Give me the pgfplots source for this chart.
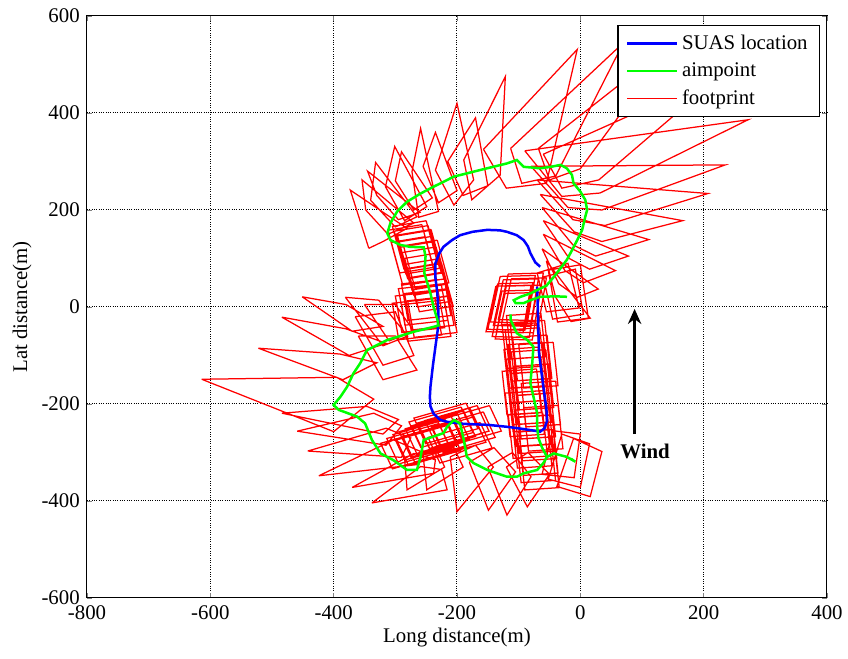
\documentclass[border=0pt]{standalone}
\usepackage{fontspec}
\setmainfont{Liberation Serif}
\usepackage{pgfplots}
\pgfplotsset{compat=1.18}
\usetikzlibrary{arrows.meta}
\begin{document}
\fontsize{12.5}{15}\selectfont
\begin{tikzpicture}
\useasboundingbox (-52.2pt,-36.6pt) rectangle (456.6pt,358.8pt);
\begin{axis}[
  scale only axis, width=444pt, height=349.2pt,
  xmin=-800, xmax=400, ymin=-600, ymax=600,
  xtick={-800,-600,...,400}, ytick={-600,-400,...,600},
  xtick pos=both, ytick pos=both,
  tick align=inside, major tick length=3pt,
  axis line style={line width=0.6pt},
  grid=major, grid style={black, densely dotted, line width=0.6pt},
  unbounded coords=jump,
  /pgf/number format/assume math mode=true,
  tick label style={font=\fontsize{12.5}{15}\selectfont},
  label style={font=\fontsize{12.5}{15}\selectfont},
  xlabel={Long distance(m)}, ylabel={Lat distance(m)},
  xlabel style={at={(axis description cs:0.5,-0.0687)}, anchor=center},
  ylabel style={at={(axis description cs:-0.0878,0.5)}, anchor=center},
  legend style={at={(axis description cs:0.9905,0.9845)}, anchor=north east,
    draw=black, line width=0.8pt, fill=white, font=\fontsize{12.5}{15}\selectfont,
    inner xsep=5pt, inner ysep=3.5pt, row sep=2pt},
  legend cell align=left,
  legend image code/.code={\draw[#1] (0pt,0pt) -- (30pt,0pt);},
]
% footprints
\addplot[red, line width=0.75pt, forget plot] coordinates {
(-90,322) (272,386) (32,235) (-30,228) (-90,322) (nan,nan)
(-80,290) (235,293) (35,200) (-20,205) (-80,290) (nan,nan)
(-70,262) (207,234) (40,168) (-12,180) (-70,262) (nan,nan)
(-65,232) (166,178) (35,135) (-10,155) (-65,232) (nan,nan)
(-62,205) (111,139) (25,105) (-12,128) (-62,205) (nan,nan)
(-60,178) (78,105) (15,78) (-18,100) (-60,178) (nan,nan)
(-60,150) (57,75) (5,50) (-25,75) (-60,150) (nan,nan)
(-62,120) (29,37) (-5,20) (-35,48) (-62,120) (nan,nan)
(-55,95) (16,-23) (-15,-30) (-40,20) (-55,95) (nan,nan)
(-52,76) (0,87) (13,-23) (-37,-31) (-52,76) (nan,nan)
(-60,62) (-8,78) (5,-15) (-45,-25) (-60,62) (nan,nan)
(-70,70) (-20,90) (-2,-2) (-55,-10) (-70,70) (nan,nan)
(-157,325) (-5,531) (-55,255) (-120,245) (-157,325) (nan,nan)
(-113,327) (70,545) (-40,270) (-95,255) (-113,327) (nan,nan)
(-68,327) (150,545) (0,285) (-50,262) (-68,327) (nan,nan)
(-60,315) (230,480) (30,262) (-30,245) (-60,315) (nan,nan)
(-189,303) (-121.6,475) (-130,272) (-176,221) (-189,303) (nan,nan)
(-235,282) (-200,420) (-173,262) (-205,210) (-235,282) (nan,nan)
(-273,279) (-259,368) (-230,197) (-262,185) (-273,279) (nan,nan)
(-316,248) (-301,331) (-249,207) (-285,178) (-316,248) (nan,nan)
(-340,220) (-332,298) (-265,186) (-300,165) (-340,220) (nan,nan)
(-348,200) (-354,262) (-270,173) (-312,150) (-348,200) (nan,nan)
(-343,121) (-373,241) (-281,162) (-320,135) (-343,121) (nan,nan)
(-215,300) (-170,390) (-150,250) (-190,230) (-215,300) (nan,nan)
(-255,290) (-235,360) (-200,240) (-230,215) (-255,290) (nan,nan)
(-300,260) (-290,320) (-240,225) (-270,200) (-300,260) (nan,nan)
(-330,230) (-345,280) (-260,195) (-295,180) (-330,230) (nan,nan)
(-451,21) (-380,5) (-320,-40) (-370,-50) (-451,21) (nan,nan)
(-484,-21) (-380,-45) (-315,-75) (-375,-100) (-484,-21) (nan,nan)
(-522,-85) (-390,-97) (-330,-115) (-385,-150) (-522,-85) (nan,nan)
(-614,-149) (-395,-145) (-335,-190) (-400,-257) (-614,-149) (nan,nan)
(-484,-219) (-346,-205) (-295,-232) (-320,-262) (-484,-219) (nan,nan)
(-459,-256) (-335,-219) (-290,-245) (-315,-285) (-459,-256) (nan,nan)
(-442,-297) (-315,-250) (-275,-270) (-290,-310) (-442,-297) (nan,nan)
(-424,-348) (-303,-274) (-255,-300) (-265,-325) (-424,-348) (nan,nan)
(-370,-372) (-270,-302) (-235,-315) (-238,-343) (-370,-372) (nan,nan)
(-338,-404) (-259,-329) (-225,-335) (-216,-377) (-338,-404) (nan,nan)
(-381,20) (-327,14) (-280,-60) (-320,-80) (-381,20) (nan,nan)
(-350,5) (-300,5) (-270,-50) (-310,-70) (-350,5) (nan,nan)
(-365,-20) (-300,-10) (-270,-100) (-320,-120) (-365,-20) (nan,nan)
(-360,-60) (-300,-60) (-265,-130) (-320,-150) (-360,-60) (nan,nan)
(-285,-310) (-281,-377) (-220,-330) (-235,-290) (-285,-310) (nan,nan)
(-255,-305) (-249,-377) (-190,-330) (-205,-290) (-255,-305) (nan,nan)
(-211,-309) (-200,-422) (-141,-330) (-170,-285) (-211,-309) (nan,nan)
(-180,-320) (-149,-419) (-105,-340) (-140,-290) (-180,-320) (nan,nan)
(-150,-330) (-119,-429) (-80,-350) (-110,-300) (-150,-330) (nan,nan)
(-120,-330) (-86,-412) (-50,-345) (-85,-300) (-120,-330) (nan,nan)
(-11,-271) (35,-298) (16,-391) (-38,-370) (-11,-271) (nan,nan)
(-30,-262) (15,-282) (0,-372) (-52,-355) (-30,-262) (nan,nan)
(-45,-255) (0,-262) (-10,-352) (-62,-345) (-45,-255) (nan,nan)
(-250,177.8) (-304.8,166.2) (-286,78.2) (-231.2,89.8) (-250,177.8) (nan,nan)
(-247,167.8) (-301.8,156.2) (-283,68.2) (-228.2,79.8) (-247,167.8) (nan,nan)
(-244,157.8) (-298.8,146.2) (-280,58.2) (-225.2,69.8) (-244,157.8) (nan,nan)
(-240,145.8) (-294.8,134.2) (-276,46.2) (-221.2,57.8) (-240,145.8) (nan,nan)
(-237,134.8) (-291.8,123.2) (-273,35.2) (-218.2,46.8) (-237,134.8) (nan,nan)
(-234,123.8) (-288.8,112.2) (-270,24.2) (-215.2,35.8) (-234,123.8) (nan,nan)
(-230,111.8) (-284.8,100.2) (-266,12.2) (-211.2,23.8) (-230,111.8) (nan,nan)
(-228,99.8) (-282.8,88.2) (-264,0.2) (-209.2,11.8) (-228,99.8) (nan,nan)
(-225,89.8) (-279.8,78.2) (-261,-9.8) (-206.2,1.8) (-225,89.8) (nan,nan)
(-257,169.8) (-311.8,158.2) (-293,70.2) (-238.2,81.8) (-257,169.8) (nan,nan)
(-242,159.8) (-296.8,148.2) (-278,60.2) (-223.2,71.8) (-242,159.8) (nan,nan)
(-252,144.8) (-306.8,133.2) (-288,45.2) (-233.2,56.8) (-252,144.8) (nan,nan)
(-232,137.8) (-286.8,126.2) (-268,38.2) (-213.2,49.8) (-232,137.8) (nan,nan)
(-220.6,57.5) (-290,47.7) (-279.4,-27.5) (-210,-17.7) (-220.6,57.5) (nan,nan)
(-225.6,47.5) (-295,37.7) (-284.4,-37.5) (-215,-27.7) (-225.6,47.5) (nan,nan)
(-215.6,37.5) (-285,27.7) (-274.4,-47.5) (-205,-37.7) (-215.6,37.5) (nan,nan)
(-230.6,32.5) (-300,22.7) (-289.4,-52.5) (-220,-42.7) (-230.6,32.5) (nan,nan)
(-210.6,22.5) (-280,12.7) (-269.4,-62.5) (-200,-52.7) (-210.6,22.5) (nan,nan)
(-220.6,14.5) (-290,4.7) (-279.4,-70.5) (-210,-60.7) (-220.6,14.5) (nan,nan)
(-235.6,17.5) (-305,7.7) (-294.4,-67.5) (-225,-57.7) (-235.6,17.5) (nan,nan)
(-130,63) (-73,65) (-86,-33) (-146,-31) (-130,63) (nan,nan)
(-125,56) (-68,58) (-81,-40) (-141,-38) (-125,56) (nan,nan)
(-134,48) (-77,50) (-90,-48) (-150,-46) (-134,48) (nan,nan)
(-120,43) (-63,45) (-76,-53) (-136,-51) (-120,43) (nan,nan)
(-127,33) (-70,35) (-83,-63) (-143,-61) (-127,33) (nan,nan)
(-117,68) (-60,70) (-73,-28) (-133,-26) (-117,68) (nan,nan)
(-122,28) (-65,30) (-78,-68) (-138,-66) (-122,28) (nan,nan)
(-137,43) (-80,45) (-93,-53) (-153,-51) (-137,43) (nan,nan)
(-112,58) (-55,60) (-68,-38) (-128,-36) (-112,58) (nan,nan)
(-64,-12.8) (-119.8,-17.6) (-112,-107.2) (-56.2,-102.4) (-64,-12.8) (nan,nan)
(-58,-27.8) (-113.8,-32.6) (-106,-122.2) (-50.2,-117.4) (-58,-27.8) (nan,nan)
(-66,-42.8) (-121.8,-47.6) (-114,-137.2) (-58.2,-132.4) (-66,-42.8) (nan,nan)
(-54,-57.8) (-109.8,-62.6) (-102,-152.2) (-46.2,-147.4) (-54,-57.8) (nan,nan)
(-61,-72.8) (-116.8,-77.6) (-109,-167.2) (-53.2,-162.4) (-61,-72.8) (nan,nan)
(-56,-87.8) (-111.8,-92.6) (-104,-182.2) (-48.2,-177.4) (-56,-87.8) (nan,nan)
(-64,-102.8) (-119.8,-107.6) (-112,-197.2) (-56.2,-192.4) (-64,-102.8) (nan,nan)
(-51,-117.8) (-106.8,-122.6) (-99,-212.2) (-43.2,-207.4) (-51,-117.8) (nan,nan)
(-58,-132.8) (-113.8,-137.6) (-106,-227.2) (-50.2,-222.4) (-58,-132.8) (nan,nan)
(-54,-147.8) (-109.8,-152.6) (-102,-242.2) (-46.2,-237.4) (-54,-147.8) (nan,nan)
(-61,-162.8) (-116.8,-167.6) (-109,-257.2) (-53.2,-252.4) (-61,-162.8) (nan,nan)
(-48,-177.8) (-103.8,-182.6) (-96,-272.2) (-40.2,-267.4) (-48,-177.8) (nan,nan)
(-56,-192.8) (-111.8,-197.6) (-104,-287.2) (-48.2,-282.4) (-56,-192.8) (nan,nan)
(-51,-207.8) (-106.8,-212.6) (-99,-302.2) (-43.2,-297.4) (-51,-207.8) (nan,nan)
(-46,-222.8) (-101.8,-227.6) (-94,-317.2) (-38.2,-312.4) (-46,-222.8) (nan,nan)
(-54,-237.8) (-109.8,-242.6) (-102,-332.2) (-46.2,-327.4) (-54,-237.8) (nan,nan)
(-44,-252.8) (-99.8,-257.6) (-92,-347.2) (-36.2,-342.4) (-44,-252.8) (nan,nan)
(-48,-267.8) (-103.8,-272.6) (-96,-362.2) (-40.2,-357.4) (-48,-267.8) (nan,nan)
(-42,-282.8) (-97.8,-287.6) (-90,-377.2) (-34.2,-372.4) (-42,-282.8) (nan,nan)
(-71,-32.8) (-126.8,-37.6) (-119,-127.2) (-63.2,-122.4) (-71,-32.8) (nan,nan)
(-68,-82.8) (-123.8,-87.6) (-116,-177.2) (-60.2,-172.4) (-68,-82.8) (nan,nan)
(-71,-127.8) (-126.8,-132.6) (-119,-222.2) (-63.2,-217.4) (-71,-127.8) (nan,nan)
(-66,-172.8) (-121.8,-177.6) (-114,-267.2) (-58.2,-262.4) (-66,-172.8) (nan,nan)
(-44,-72.8) (-99.8,-77.6) (-92,-167.2) (-36.2,-162.4) (-44,-72.8) (nan,nan)
(-40,-152.8) (-95.8,-157.6) (-88,-247.2) (-32.2,-242.4) (-40,-152.8) (nan,nan)
(-36,-202.8) (-91.8,-207.6) (-84,-297.2) (-28.2,-292.4) (-36,-202.8) (nan,nan)
(-61,-217.8) (-116.8,-222.6) (-109,-312.2) (-53.2,-307.4) (-61,-217.8) (nan,nan)
(-167.3,-203.3) (-251.9,-234.1) (-232.7,-286.7) (-148.1,-255.9) (-167.3,-203.3) (nan,nan)
(-179.3,-208.3) (-263.9,-239.1) (-244.7,-291.7) (-160.1,-260.9) (-179.3,-208.3) (nan,nan)
(-189.3,-214.3) (-273.9,-245.1) (-254.7,-297.7) (-170.1,-266.9) (-189.3,-214.3) (nan,nan)
(-199.3,-220.3) (-283.9,-251.1) (-264.7,-303.7) (-180.1,-272.9) (-199.3,-220.3) (nan,nan)
(-209.3,-226.3) (-293.9,-257.1) (-274.7,-309.7) (-190.1,-278.9) (-209.3,-226.3) (nan,nan)
(-219.3,-232.3) (-303.9,-263.1) (-284.7,-315.7) (-200.1,-284.9) (-219.3,-232.3) (nan,nan)
(-185.3,-198.3) (-269.9,-229.1) (-250.7,-281.7) (-166.1,-250.9) (-185.3,-198.3) (nan,nan)
(-157.3,-216.3) (-241.9,-247.1) (-222.7,-299.7) (-138.1,-268.9) (-157.3,-216.3) (nan,nan)
(-229.3,-240.3) (-313.9,-271.1) (-294.7,-323.7) (-210.1,-292.9) (-229.3,-240.3) (nan,nan)
(-239.3,-250.3) (-323.9,-281.1) (-304.7,-333.7) (-220.1,-302.9) (-239.3,-250.3) (nan,nan)
(-203.3,-236.3) (-287.9,-267.1) (-268.7,-319.7) (-184.1,-288.9) (-203.3,-236.3) (nan,nan)
(-172.3,-226.3) (-256.9,-257.1) (-237.7,-309.7) (-153.1,-278.9) (-172.3,-226.3) (nan,nan)
(-147.3,-203.3) (-231.9,-234.1) (-212.7,-286.7) (-128.1,-255.9) (-147.3,-203.3) (nan,nan)
(-193.3,-206.3) (-277.9,-237.1) (-258.7,-289.7) (-174.1,-258.9) (-193.3,-206.3) (nan,nan)
(-213.3,-243.3) (-297.9,-274.1) (-278.7,-326.7) (-194.1,-295.9) (-213.3,-243.3) (nan,nan)
(-162.3,-238.3) (-246.9,-269.1) (-227.7,-321.7) (-143.1,-290.9) (-162.3,-238.3)
};
% SUAS location
\addplot[blue, line width=1.5pt] coordinates {
(-70,42) (-69,0) (-67,-95) (-60,-164) (-55,-210) (-54,-235) (-58,-250) (-65,-257)
(-90,-252) (-119,-247) (-150,-243) (-189,-241) (-215,-237) (-227,-233) (-238,-220)
(-243,-205) (-244,-185) (-243,-164) (-239,-120) (-235,-82) (-231,-45) (-230,-13)
(-232,30) (-235,60) (-235,90) (-229,110) (-222,124) (-208,138) (-195,148) (-175,155)
(-151,159) (-130,158) (-119,155) (-103,148) (-92,138) (-85,125) (-81,111) (-73,92) (-65,83)
};
% aimpoint
\addplot[green, line width=1.5pt] coordinates {
(-21.6,21) (-40,22) (-65,21) (-81,14) (-92,8) (-105,8) (-108,14) (-97,21) (-81,28)
(-65,38) (-55,44) (-43,62) (-32,80) (-22,97) (-13.5,117) (-5,138) (3,159) (8,186)
(11,200) (8,221) (0,238) (-11,255) (-13.5,272) (-22,286) (-32,293) (-48,289) (-65,286)
(-92,289) (-103,303) (-119,296) (-151,286) (-173,279) (-195,272) (-205,269) (-222,258)
(-238,248) (-259,234) (-281,217) (-297,197) (-308,173) (-313,152) (-308,138) (-292,128)
(-276,124) (-254,123) (-251,104) (-253,70) (-243,28) (-238,0) (-232,-25) (-230,-38)
(-238,-41) (-270,-51) (-313,-68) (-346,-89) (-357,-116) (-368,-137) (-378,-164)
(-389,-185) (-400,-202) (-392,-212) (-362,-226) (-349,-240) (-338,-274) (-324,-302)
(-303,-316) (-281,-336) (-265,-336) (-259,-309) (-254,-274) (-238,-267) (-222,-260)
(-216,-247) (-205,-233) (-195,-240) (-189,-274) (-184,-309) (-173,-322) (-151,-336)
(-119,-350) (-103,-350) (-92,-343) (-70,-336) (-60,-322) (-54,-309) (-43,-302)
(-22,-309) (-8,-319) (-15,-313)
(nan,nan)
(-54,-309) (-62,-290) (-68,-270) (-70,-247) (-70,-219) (-76,-185) (-81,-157)
(-78,-116) (-76,-82) (-86,-68) (-103,-54) (-113,-27) (-113,-15)
};
% wind arrow
\addplot[black, line width=1.5pt, forget plot, -{Stealth[length=9pt,width=8pt]}] coordinates {(88,-262) (88,-4)};
\node[font=\bfseries\fontsize{12.5}{15}\selectfont] at (axis cs:105,-297) {Wind};
\addlegendimage{red, line width=0.8pt}
\legend{SUAS location, aimpoint, footprint}
\end{axis}
\end{tikzpicture}
\end{document}
